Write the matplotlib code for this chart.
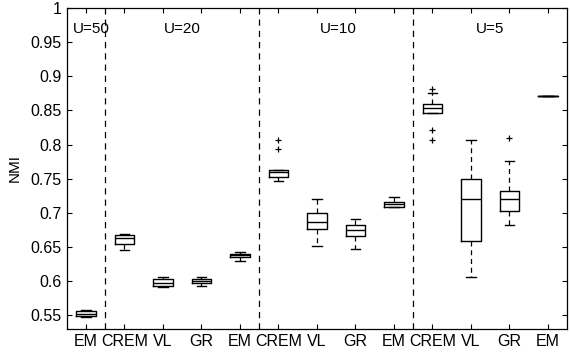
import matplotlib
matplotlib.use('Agg')
import matplotlib.pyplot as plt
import matplotlib.ticker as mticker

plt.rcParams['font.family'] = ['Liberation Sans', 'DejaVu Sans']

# methods along the x axis, grouped by U
labels = ['EM', 'CREM', 'VL', 'GR', 'EM', 'CREM', 'VL', 'GR', 'EM', 'CREM', 'VL', 'GR', 'EM']
groups = ['U=50', 'U=20', 'U=10', 'U=5']
group_label_x = [1.15, 3.5, 7.55, 11.5]
separators = [1.5, 5.5, 9.5]

# box statistics
whislo = [0.547, 0.646, 0.5905, 0.593, 0.630, 0.746, 0.652, 0.647, 0.708, 0.846, 0.6066, 0.682, 0.8705]
q1     = [0.549, 0.6545, 0.593, 0.5968, 0.635, 0.752, 0.6769, 0.666, 0.709, 0.846, 0.658, 0.7023, 0.8705]
med    = [0.552, 0.6637, 0.5978, 0.600, 0.6374, 0.7605, 0.6862, 0.675, 0.713, 0.854, 0.720, 0.720, 0.8705]
q3     = [0.5555, 0.667, 0.6027, 0.6032, 0.6394, 0.763, 0.6994, 0.6823, 0.716, 0.860, 0.750, 0.7326, 0.8705]
whishi = [0.557, 0.669, 0.6057, 0.6057, 0.6423, 0.763, 0.720, 0.6906, 0.7228, 0.875, 0.8067, 0.7755, 0.8705]
fliers = [[], [], [], [], [], [0.794, 0.807], [], [], [], [0.806, 0.821, 0.881], [], [0.810], []]

stats = []
for i in range(len(labels)):
    stats.append(dict(whislo=whislo[i], q1=q1[i], med=med[i], q3=q3[i],
                      whishi=whishi[i], fliers=fliers[i], label=labels[i]))

fig = plt.figure(figsize=(5.7, 3.52), dpi=100)
ax = fig.add_axes([0.117, 0.066, 0.878, 0.911])

ax.bxp(stats, positions=range(1, len(labels) + 1), widths=0.5, capwidths=0.25,
       boxprops=dict(color='black', linewidth=1.0),
       whiskerprops=dict(color='black', linewidth=0.9, linestyle=(0, (4, 3))),
       capprops=dict(color='black', linewidth=1.0),
       medianprops=dict(color='black', linewidth=1.0),
       flierprops=dict(marker='+', markeredgecolor='black', markersize=5, markeredgewidth=0.9))

for x in separators:
    ax.axvline(x, color='black', linestyle=(0, (5, 4)), linewidth=0.9)

for g, x in zip(groups, group_label_x):
    ax.text(x, 0.969, g, ha='center', va='center', fontsize=11)

ax.set_xlim(0.5, 13.5)
ax.set_ylim(0.53, 1.0)
ax.set_yticks([0.55, 0.6, 0.65, 0.7, 0.75, 0.8, 0.85, 0.9, 0.95, 1.0])
ax.yaxis.set_major_formatter(mticker.FormatStrFormatter('%g'))
ax.set_xticklabels(labels)
ax.tick_params(direction='in', top=True, right=True, length=3.5, labelsize=11.5, width=0.8)
ax.tick_params(axis='x', pad=4)
for s in ax.spines.values():
    s.set_linewidth(0.9)
ax.set_ylabel('NMI', fontsize=11, labelpad=6)

fig.savefig('out.png', dpi=100)
